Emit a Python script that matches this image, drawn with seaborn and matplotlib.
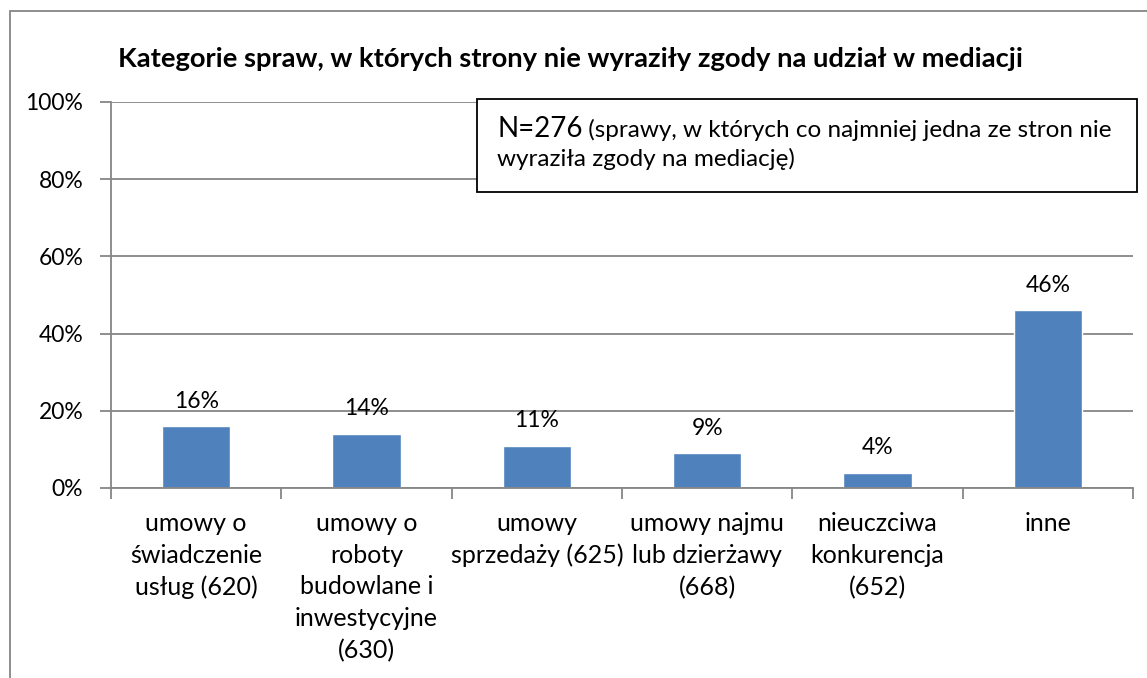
import matplotlib
matplotlib.use("Agg")
import matplotlib.pyplot as plt
import seaborn as sns
import pandas as pd
from matplotlib.patches import Rectangle
from matplotlib.ticker import FuncFormatter

categories = [
    "umowy o\nświadczenie\nusług (620)",
    "umowy o\nroboty\nbudowlane i\ninwestycyjne\n(630)",
    "umowy\nsprzedaży (625)",
    "umowy najmu\nlub dzierżawy\n(668)",
    "nieuczciwa\nkonkurencja\n(652)",
    "inne",
]
values = [16, 14, 11, 9, 4, 46]
title = "Kategorie spraw, w których strony nie wyraziły zgody na udział w mediacji"
note_n = "N=276"
note_rest_1 = " (sprawy, w których co najmniej jedna ze stron nie"
note_rest_2 = "wyraziła zgody na mediację)"

sns.set_theme(style="white")
plt.rcParams['font.family'] = ['Lato', 'DejaVu Sans']
plt.rcParams['text.color'] = 'black'

W, H = 1147, 678
fig = plt.figure(figsize=(W / 100, H / 100), dpi=100)
ax = fig.add_axes([111 / W, 1 - 488 / H, (1133 - 111) / W, (488 - 102) / H])

df = pd.DataFrame({"cat": categories, "val": values})
sns.barplot(data=df, x="cat", y="val", color="#4F81BD", saturation=1, width=0.4, ax=ax)

ax.set_ylim(0, 100)
ax.set_xlim(-0.5, len(categories) - 0.5)
ax.set_yticks(range(0, 101, 20))
ax.yaxis.set_major_formatter(FuncFormatter(lambda v, p: f"{int(v)}%"))
ax.yaxis.grid(True, color="#868686", linewidth=1.3)
ax.set_axisbelow(True)
ax.set_xlabel("")
ax.set_ylabel("")
for s in ["top", "right"]:
    ax.spines[s].set_visible(False)
for s in ["left", "bottom"]:
    ax.spines[s].set_color("#868686")
    ax.spines[s].set_linewidth(1.3)

ax.tick_params(axis="y", left=True, length=8, width=1.3, color="#868686", labelsize=16.5, pad=12, labelcolor="black")
ax.set_xticks(range(len(categories)))
ax.set_xticklabels(categories, fontsize=18, linespacing=1.47, va="top")
ax.tick_params(axis="x", bottom=False, pad=11, labelcolor="black")
# category boundary ticks
ax.set_xticks([i - 0.5 for i in range(len(categories) + 1)], minor=True)
ax.tick_params(axis="x", which="minor", bottom=True, length=8, width=1.3, color="#868686")

for c in ax.containers:
    ax.bar_label(c, labels=[f"{v}%" for v in values], padding=10.5, fontsize=16.5, color="black")

fig.text(118 / W, 1 - 67 / H, title, fontsize=19.7, fontweight="bold", va="baseline", ha="left")

# outer chart border
fig.patches.append(Rectangle((10 / W, -0.1), 1.2, 1 - 11 / H + 0.1, transform=fig.transFigure,
                             fill=False, edgecolor="#868686", linewidth=1.3, zorder=0))
# note box
fig.patches.append(Rectangle((477 / W, 1 - 192 / H), (1137 - 477) / W, (192 - 99) / H,
                             transform=fig.transFigure, facecolor="white", edgecolor="black",
                             linewidth=1.3, zorder=5))
t1 = fig.text(497 / W, 1 - 137 / H, note_n, fontsize=20, va="baseline", ha="left", zorder=6)
fig.canvas.draw()
bb = t1.get_window_extent()
fig.text(bb.x1 / W, 1 - 137 / H, note_rest_1, fontsize=17.5, va="baseline", ha="left", zorder=6)
fig.text(497 / W, 1 - 166 / H, note_rest_2, fontsize=17.5, va="baseline", ha="left", zorder=6)

fig.savefig("out.png", dpi=100)
